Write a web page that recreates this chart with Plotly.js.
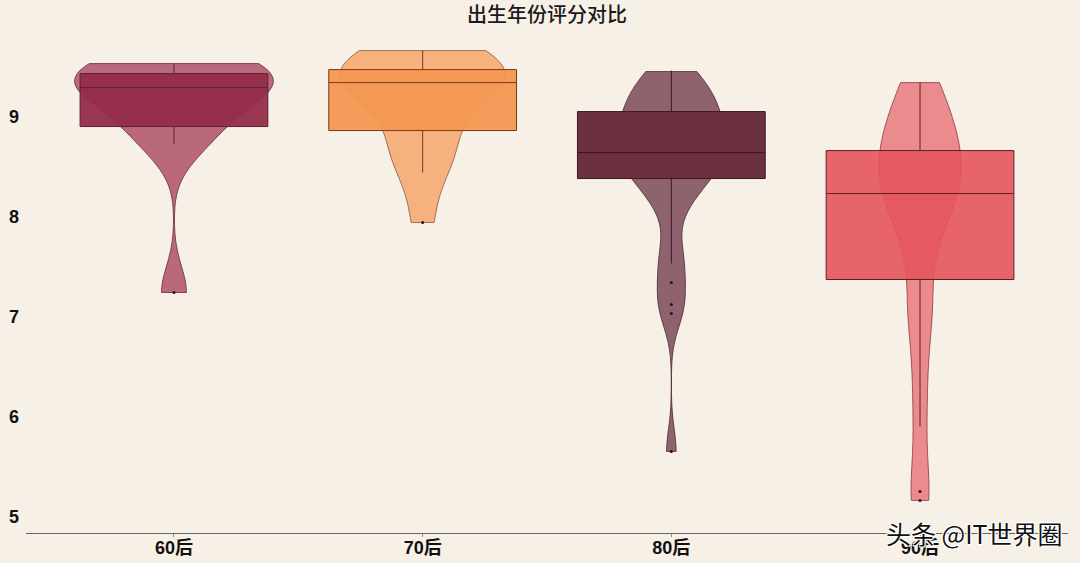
<!DOCTYPE html>
<html>
<head>
<meta charset="utf-8">
<script src="https://cdn.plot.ly/plotly-3.0.1.min.js"></script>
<style>
  html, body { margin: 0; padding: 0; background: #f7f0e6; }
  #chart { width: 1080px; height: 563px; }
</style>
</head>
<body>
<div id="chart"></div>
<script>
// ---- data ----
const categories = ['60后', '70后', '80后', '90后'];

// estimated individual scores per birth-decade group
const scores60s = [7.24, 8.72, 8.85, 9.0, 9.2, 9.3, 9.35, 9.4, 9.4, 9.45, 9.5, 9.53];
const scores70s = [7.94, 8.44, 8.6, 8.75, 8.9, 9.2, 9.3, 9.35, 9.4, 9.4, 9.45, 9.5, 9.55, 9.6, 9.66];
const scores80s = [5.65, 7.03, 7.12, 7.34, 7.53, 7.7, 8.1, 8.2, 8.3, 8.4, 8.45, 8.5, 8.55, 8.6, 8.6, 8.65, 8.7,
                   8.75, 8.8, 8.85, 8.9, 8.95, 9.0, 9.05, 9.1, 9.15, 9.2, 9.3, 9.35, 9.4, 9.45];
const scores90s = [5.16, 5.25, 5.9, 6.4, 6.9, 7.1, 7.35, 7.8, 7.95, 8.05, 8.15, 8.25, 8.3, 8.4, 8.5, 8.55,
                   8.6, 8.7, 8.8, 8.9, 9.0, 9.1, 9.3, 9.34];

// box statistics as drawn in the picture
const boxQ1     = [8.90, 8.86, 8.38, 7.37];
const boxMedian = [9.29, 9.34, 8.64, 8.23];
const boxQ3     = [9.43, 9.47, 9.05, 8.66];
const boxLower  = [8.73, 8.44, 7.53, 5.90];
const boxUpper  = [9.53, 9.66, 9.46, 9.34];

// outlier points
const outlierCat   = ['60后', '70后', '80后', '80后', '80后', '80后', '90后', '90后'];
const outlierScore = [7.24, 7.94, 7.34, 7.12, 7.03, 5.65, 5.25, 5.16];

// ---- styles ----
const groupScores  = [scores60s, scores70s, scores80s, scores90s];
const violinFill   = ['#b9697b', '#f5b17e', '#8f636e', '#ec8b8e'];
const violinLine   = ['#6a2a3c', '#8a5a38', '#4a2a32', '#8a3a40'];
const boxFill      = ['rgba(147,44,74,0.95)', 'rgba(244,150,80,0.93)', 'rgba(108,48,63,1)', 'rgba(228,84,93,0.9)'];
const boxLine      = ['#5a2234', '#7a3a1c', '#3e1622', '#5a2228'];
const violinWidth  = [0.80, 0.66, 0.44, 0.33];
const bandwidths   = [0.26, 0.28, 0.22, 0.35];

const traces = [];
categories.forEach((cat, i) => {
  traces.push({
    type: 'violin',
    x0: cat,
    y: groupScores[i],
    name: cat,
    spanmode: 'hard',
    bandwidth: bandwidths[i],
    width: violinWidth[i],
    scalemode: 'width',
    points: false,
    box: { visible: false },
    meanline: { visible: false },
    fillcolor: violinFill[i],
    line: { color: violinLine[i], width: 0.8 },
    hoverinfo: 'skip',
    showlegend: false
  });
});
categories.forEach((cat, i) => {
  traces.push({
    type: 'box',
    x: [cat],
    q1: [boxQ1[i]],
    median: [boxMedian[i]],
    q3: [boxQ3[i]],
    lowerfence: [boxLower[i]],
    upperfence: [boxUpper[i]],
    width: 0.755,
    whiskerwidth: 0,
    boxpoints: false,
    fillcolor: boxFill[i],
    line: { color: boxLine[i], width: 1 },
    hoverinfo: 'skip',
    showlegend: false
  });
});
traces.push({
  type: 'scatter',
  mode: 'markers',
  x: outlierCat,
  y: outlierScore,
  marker: { size: 3, color: '#2a1016' },
  hoverinfo: 'skip',
  showlegend: false
});

const layout = {
  width: 1080,
  height: 563,
  paper_bgcolor: '#f7f0e6',
  plot_bgcolor: '#f7f0e6',
  margin: { l: 26, r: 12, t: 36, b: 30 },
  violinmode: 'overlay',
  boxmode: 'overlay',
  title: {
    text: '出生年份评分对比',
    x: 0.5, xref: 'paper',
    y: 0.973, yref: 'container', yanchor: 'middle',
    font: { family: 'Noto Sans CJK SC, sans-serif', size: 20, color: '#1a1a1a', weight: 500 }
  },
  xaxis: {
    type: 'category',
    categoryorder: 'array',
    categoryarray: categories,
    range: [-0.595, 3.595],
    showline: true,
    linecolor: '#6b6262',
    linewidth: 1,
    showgrid: false,
    zeroline: false,
    ticks: 'outside',
    ticklen: 3,
    tickcolor: '#9a9090',
    ticklabelstandoff: -5,
    tickfont: { family: 'Liberation Sans, Arial, Noto Sans CJK SC, sans-serif', size: 18, color: '#111', weight: 'bold' }
  },
  yaxis: {
    range: [4.834, 9.806],
    tickvals: [5, 6, 7, 8, 9],
    showline: false,
    showgrid: false,
    zeroline: false,
    ticks: '',
    ticklabelstandoff: 6,
    tickfont: { family: 'Liberation Sans, Arial, sans-serif', size: 18, color: '#111', weight: 'bold' }
  },
  annotations: [{
    text: '头条 @IT世界圈',
    xref: 'paper', yref: 'paper',
    x: 0.997, y: 0.0, xanchor: 'right', yanchor: 'middle',
    showarrow: false,
    font: { family: 'Noto Sans CJK SC, sans-serif', size: 25, color: '#111',
            shadow: '1px 1px 0 #fff, -1px -1px 0 #fff, 1px -1px 0 #fff, -1px 1px 0 #fff' }
  }]
};

Plotly.newPlot('chart', traces, layout, { displayModeBar: false, staticPlot: true });
</script>
</body>
</html>
